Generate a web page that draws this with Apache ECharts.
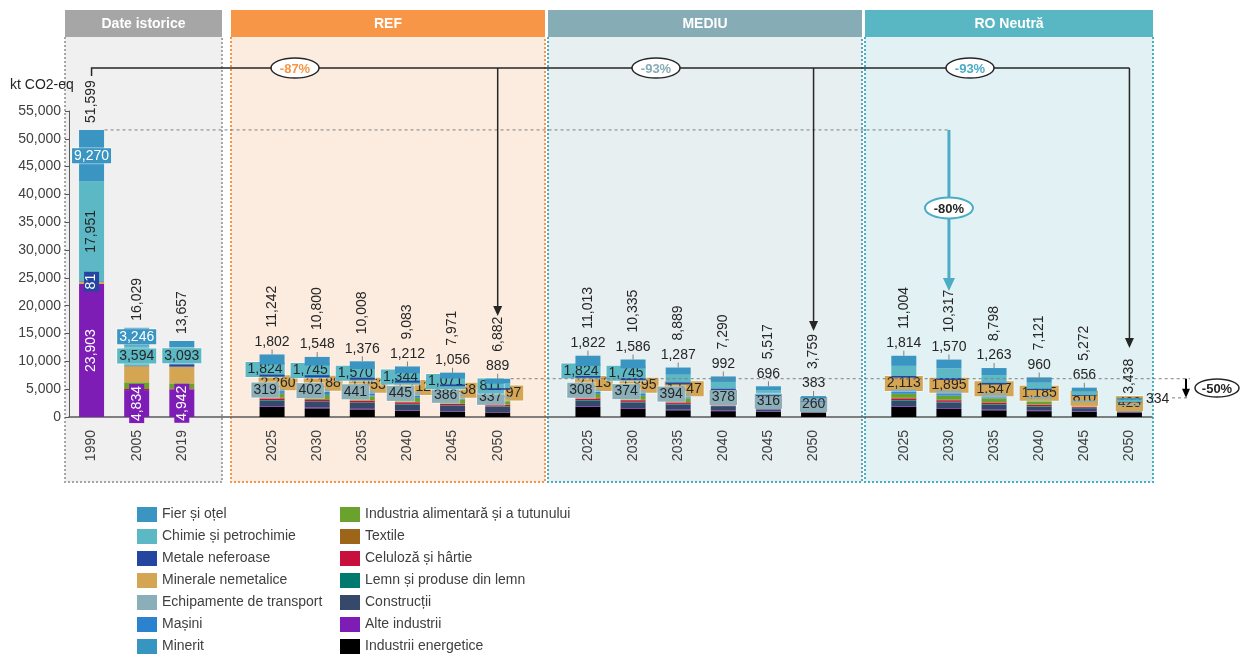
<!DOCTYPE html>
<html>
<head>
<meta charset="utf-8">
<script src="https://cdn.jsdelivr.net/npm/echarts@6/dist/echarts.min.js"></script>
<style>
  html, body { margin: 0; padding: 0; background: #fff; }
  #main { width: 1248px; height: 655px; }
</style>
</head>
<body>
<div id="main"></div>
<script>
// x axis: 3 historic years, then 3 scenarios of 6 years, '' = gap between panels
const years  = ['1990', '2005', '2019', '', '2025', '2030', '2035', '2040', '2045', '2050', '', '2025', '2030', '2035', '2040', '2045', '2050', '', '2025', '2030', '2035', '2040', '2045', '2050'];
const groups = ['H', 'H', 'H', 'g1', 'REF', 'REF', 'REF', 'REF', 'REF', 'REF', 'g2', 'MED', 'MED', 'MED', 'MED', 'MED', 'MED', 'g3', 'RO', 'RO', 'RO', 'RO', 'RO', 'RO'];
const yTicks = [0, 5000, 10000, 15000, 20000, 25000, 30000, 35000, 40000, 45000, 50000, 55000];

// kt CO2-eq per sector (null = gap)
const energ    = [0, 0, 0, null, 1800, 1550, 1350, 1100, 950, 800, null, 1800, 1500, 1200, 1050, 950, 850, null, 1800, 1500, 1200, 1050, 950, 800];
const alte     = [23903, 4834, 4942, null, 130, 130, 120, 110, 100, 90, null, 130, 120, 110, 100, 90, 70, null, 130, 120, 110, 100, 90, 60];
const constr   = [0, 0, 0, null, 1000, 1050, 1050, 1050, 1000, 950, null, 1000, 1000, 950, 800, 600, 450, null, 1000, 1000, 900, 700, 550, 350];
const lemn     = [0, 0, 0, null, 120, 120, 110, 100, 90, 80, null, 120, 110, 100, 90, 70, 50, null, 120, 110, 100, 90, 70, 60];
const celul    = [0, 200, 202, null, 300, 290, 280, 270, 260, 250, null, 290, 280, 260, 240, 200, 150, null, 290, 280, 260, 240, 200, 150];
const textile  = [0, 0, 0, null, 110, 100, 90, 80, 70, 60, null, 100, 90, 80, 70, 50, 40, null, 100, 90, 80, 70, 50, 30];
const aliment  = [0, 1200, 900, null, 700, 720, 720, 720, 700, 650, null, 700, 700, 650, 550, 450, 350, null, 720, 720, 700, 650, 500, 350];
const minerit  = [0, 0, 0, null, 180, 170, 160, 150, 140, 130, null, 170, 160, 150, 130, 100, 80, null, 170, 160, 150, 130, 100, 80];
const masini   = [0, 0, 0, null, 350, 420, 430, 440, 390, 350, null, 340, 420, 420, 300, 150, 100, null, 340, 410, 400, 260, 160, 120];
const echip    = [0, 0, 0, null, 319, 402, 441, 445, 386, 337, null, 308, 374, 394, 378, 316, 260, null, 300, 370, 390, 370, 300, 200];
const minerale = [394, 2900, 3000, null, 2260, 2188, 1953, 1712, 1458, 1197, null, 2113, 1895, 1547, 1150, 800, 400, null, 2113, 1895, 1547, 1185, 810, 423];
const metale   = [81, 55, 420, null, 347, 367, 358, 350, 300, 288, null, 296, 355, 341, 240, 145, 76, null, 297, 352, 298, 216, 136, 81];
const chimie   = [17951, 3594, 3093, null, 1824, 1745, 1570, 1344, 1071, 811, null, 1824, 1745, 1400, 1200, 900, 500, null, 1810, 1740, 1400, 1100, 700, 400];
const fier     = [9270, 3246, 1100, null, 1802, 1548, 1376, 1212, 1056, 889, null, 1822, 1586, 1287, 992, 696, 383, null, 1814, 1570, 1263, 960, 656, 334];
const totals   = [51599, 16029, 13657, null, 11242, 10800, 10008, 9083, 7971, 6882, null, 11013, 10335, 8889, 7290, 5517, 3759, null, 11004, 10317, 8798, 7121, 5272, 3438];

// where each value label goes: c = box centred, l / r = box shifted, v = vertical, t = above bar, R = right of bar
const lblFier     = ['c', 'c', '', '', 't', 't', 't', 't', 't', 't', '', 't', 't', 't', 't', 't', 't', '', 't', 't', 't', 't', 't', 'R'];
const lblChimie   = ['v', 'c', 'c', '', 'l', 'l', 'l', 'l', 'l', 'l', '', 'l', 'l', '', '', '', '', '', '', '', '', '', '', ''];
const lblMetale   = ['v', '', '', '', '', '', '', '', '', '', '', '', '', '', '', '', '', '', '', '', '', '', '', ''];
const lblMinerale = ['', '', '', '', 'r', 'r', 'r', 'r', 'r', 'r', '', 'r', 'r', 'r', '', '', '', '', 'c', 'c', 'c', 'c', 'c', 'c'];
const lblEchip    = ['', '', '', '', 'l', 'l', 'l', 'l', 'l', 'l', '', 'l', 'l', 'l', 'c', 'c', 'c', '', '', '', '', '', '', ''];
const lblAlte     = ['v', 'v', 'v', '', '', '', '', '', '', '', '', '', '', '', '', '', '', '', '', '', '', '', '', ''];

const FONT = "'Liberation Sans', Arial, sans-serif";
const chart = echarts.init(document.getElementById('main'));

function fmt(v) {
  return String(v).replace(/\B(?=(\d{3})+(?!\d))/g, ',');
}

function itemLabel(mode, v, s) {
  const base = { show: true, fontFamily: FONT, fontSize: 14, formatter: fmt(v) };
  if (mode === 'c' || mode === 'l' || mode === 'r') {
    return Object.assign(base, {
      position: 'inside',
      offset: [mode === 'l' ? -7 : (mode === 'r' ? 6 : 0), 0],
      color: s.txt,
      backgroundColor: s.color,
      borderColor: 'rgba(255,255,255,0.45)',
      borderWidth: 1,
      padding: [1, 2, 0, 2],
      lineHeight: 14
    });
  }
  if (mode === 'v') {
    return Object.assign(base, {
      position: 'inside',
      rotate: 90,
      color: s.txt,
      backgroundColor: s.vbox ? s.color : 'transparent',
      padding: [1, 2, 0, 2],
      lineHeight: 14
    });
  }
  if (mode === 't') {
    return {
      show: true,
      position: 'top',
      distance: 0,
      formatter: '{v|' + fmt(v) + '}\n{t|}',
      rich: {
        v: { fontFamily: FONT, fontSize: 14, color: '#262626', lineHeight: 15 },
        t: { width: 1, height: 5, backgroundColor: '#7f7f7f' }
      }
    };
  }
  if (mode === 'R') {
    return Object.assign(base, { position: 'right', distance: 4, color: '#262626' });
  }
  return { show: false };
}

const sectors = [
  { name: 'Industrii energetice', color: '#000000', data: energ },
  { name: 'Alte industrii', color: '#7d1db6', data: alte, lbl: lblAlte, txt: '#ffffff', vbox: true, z: 3 },
  { name: 'Construcții', color: '#37496b', data: constr },
  { name: 'Lemn și produse din lemn', color: '#00796f', data: lemn },
  { name: 'Celuloză și hârtie', color: '#c8103d', data: celul },
  { name: 'Textile', color: '#9d6519', data: textile },
  { name: 'Industria alimentară și a tutunului', color: '#6ba22d', data: aliment },
  { name: 'Minerit', color: '#3795c2', data: minerit },
  { name: 'Mașini', color: '#2b83cf', data: masini },
  { name: 'Echipamente de transport', color: '#8aafb9', data: echip, lbl: lblEchip, txt: '#262626', z: 4 },
  { name: 'Minerale nemetalice', color: '#d4a653', data: minerale, lbl: lblMinerale, txt: '#262626', z: 3 },
  { name: 'Metale neferoase', color: '#2546a0', data: metale, lbl: lblMetale, txt: '#ffffff', vbox: true, z: 6 },
  { name: 'Chimie și petrochimie', color: '#5cb8c4', data: chimie, lbl: lblChimie, txt: '#262626', z: 4 },
  { name: 'Fier și oțel', color: '#3a95c2', data: fier, lbl: lblFier, txt: '#ffffff', z: 5 }
];

const legendLeft  = ['Fier și oțel', 'Chimie și petrochimie', 'Metale neferoase', 'Minerale nemetalice', 'Echipamente de transport', 'Mașini', 'Minerit'];
const legendRight = ['Industria alimentară și a tutunului', 'Textile', 'Celuloză și hârtie', 'Lemn și produse din lemn', 'Construcții', 'Alte industrii', 'Industrii energetice'];

const categories = years.map((y, i) => groups[i] + '|' + y);

const series = sectors.map(s => ({
  name: s.name,
  type: 'bar',
  stack: 'total',
  barWidth: 25,
  barGap: '-100%',
  z: s.z || 2,
  itemStyle: { color: s.color },
  label: { show: false },
  data: s.data.map((v, i) => {
    if (v == null) return '-';
    const mode = s.lbl ? s.lbl[i] : '';
    return mode ? { value: v, label: itemLabel(mode, v, s) } : v;
  })
}));

// totals written above each bar
series.push({
  name: 'Total',
  type: 'bar',
  barWidth: 25,
  barGap: '-100%',
  z: 1,
  silent: true,
  itemStyle: { color: 'rgba(0,0,0,0)' },
  label: {
    show: true,
    position: 'top',
    rotate: 90,
    align: 'left',
    verticalAlign: 'middle',
    fontFamily: FONT,
    fontSize: 14,
    color: '#262626',
    formatter: p => fmt(p.value)
  },
  data: totals.map((v, i) => {
    if (v == null) return '-';
    const gap = i < 3 ? 7 : (lblFier[i] === 'R' ? 4 : 27);
    return { value: v, label: { distance: gap } };
  })
});

const legendBase = {
  orient: 'vertical',
  top: 507,
  height: 150,
  padding: 0,
  itemWidth: 20,
  itemHeight: 15,
  itemGap: 7,
  icon: 'rect',
  selectedMode: false,
  textStyle: { fontFamily: FONT, fontSize: 14, color: '#404040', lineHeight: 15 }
};

const option = {
  animation: false,
  textStyle: { fontFamily: FONT },
  grid: { left: 69, right: 96, top: 111, bottom: 238 },
  legend: [
    Object.assign({ left: 137, data: legendLeft }, legendBase),
    Object.assign({ left: 340, data: legendRight }, legendBase)
  ],
  xAxis: {
    type: 'category',
    data: categories,
    axisLine: { lineStyle: { color: '#595959', width: 1.5 } },
    axisTick: { show: false },
    axisLabel: {
      interval: 0,
      rotate: 90,
      margin: 13,
      fontSize: 14,
      color: '#404040',
      formatter: v => v.split('|')[1]
    }
  },
  yAxis: {
    type: 'value',
    min: yTicks[0],
    max: yTicks[yTicks.length - 1],
    interval: yTicks[1] - yTicks[0],
    splitLine: { show: false },
    axisLine: { show: true, lineStyle: { color: '#595959' } },
    axisTick: { show: true, length: 4, lineStyle: { color: '#595959' } },
    axisLabel: { fontSize: 14, color: '#404040', margin: 8, formatter: v => fmt(v) }
  },
  series: series
};

chart.setOption(option);

// ---- panels and arrows (drawn after the axes exist) ----
const X = i => chart.convertToPixel({ gridIndex: 0 }, [i, 0])[0];
const Y = v => chart.convertToPixel({ gridIndex: 0 }, [0, v])[1];

const panels = [
  { x: 65, w: 157, title: 'Date istorice', head: '#a6a6a6', bg: '#f0f0f0', line: '#a6a6a6' },
  { x: 231, w: 314, title: 'REF', head: '#f79646', bg: '#fcece0', line: '#f79646' },
  { x: 548, w: 314, title: 'MEDIU', head: '#86acb5', bg: '#e8eff1', line: '#4bacc6' },
  { x: 865, w: 288, title: 'RO Neutră', head: '#59b6c3', bg: '#e2f1f3', line: '#4bacc6' }
];

const g = [];
panels.forEach(p => {
  g.push({ type: 'rect', z: -10, shape: { x: p.x, y: 37, width: p.w, height: 445 }, style: { fill: p.bg } });
  g.push({
    type: 'polyline', z: -9,
    shape: { points: [[p.x, 37], [p.x, 482], [p.x + p.w, 482], [p.x + p.w, 37]] },
    style: { stroke: p.line, lineWidth: 2, lineDash: [2, 2], fill: null }
  });
  g.push({ type: 'rect', z: -8, shape: { x: p.x, y: 10, width: p.w, height: 27 }, style: { fill: p.head } });
  g.push({
    type: 'text', z: -7, x: p.x + p.w / 2, y: 24,
    style: { text: p.title, fill: '#ffffff', font: 'bold 14px ' + FONT, align: 'center', verticalAlign: 'middle' }
  });
});

g.push({
  type: 'text', x: 10, y: 85,
  style: { text: 'kt CO2-eq', fill: '#262626', font: '14px ' + FONT, align: 'left', verticalAlign: 'middle' }
});

function arrowDown(x, y1, y2, color, w, head) {
  g.push({ type: 'line', z: 50, shape: { x1: x, y1: y1, x2: x, y2: y2 - head }, style: { stroke: color, lineWidth: w } });
  g.push({
    type: 'polygon', z: 50,
    shape: { points: [[x - head * 0.5, y2 - head - 1], [x + head * 0.5, y2 - head - 1], [x, y2]] },
    style: { fill: color }
  });
}

function badge(x, y, text, textColor, stroke, sw) {
  g.push({ type: 'ellipse', z: 55, shape: { cx: x, cy: y, rx: 24, ry: 10 }, style: { fill: '#ffffff', stroke: stroke, lineWidth: sw } });
  g.push({
    type: 'text', z: 56, x: x, y: y + 1,
    style: { text: text, fill: textColor, font: 'bold 13px ' + FONT, align: 'center', verticalAlign: 'middle' }
  });
}

const lineY = 68;
const x90 = X(0), xRef = X(9), xMed = X(16), xRo = X(23);
g.push({
  type: 'polyline', z: 50,
  shape: { points: [[x90, 76], [x90, lineY], [xRo, lineY]] },
  style: { stroke: '#262626', lineWidth: 1.5, fill: null }
});
arrowDown(xRef, lineY, 316, '#262626', 1.5, 9);
arrowDown(xMed, lineY, 331, '#262626', 1.5, 9);
arrowDown(xRo, lineY, 348, '#262626', 1.5, 9);
badge(295, lineY, '-87%', '#f79646', '#262626', 1.5);
badge(656, lineY, '-93%', '#86acb5', '#262626', 1.5);
badge(970, lineY, '-93%', '#4bacc6', '#262626', 1.5);

// 1990 level down to RO Neutră 2030
const y1990 = Y(totals[0]);
const xRo30 = X(19);
g.push({ type: 'line', z: 40, shape: { x1: x90 + 13, y1: y1990, x2: xRo30, y2: y1990 }, style: { stroke: '#7f7f7f', lineWidth: 1, lineDash: [3, 3] } });
arrowDown(xRo30, y1990, 291, '#4bacc6', 3, 12);
g.push({ type: 'ellipse', z: 55, shape: { cx: xRo30, cy: 208, rx: 24, ry: 10.5 }, style: { fill: '#ffffff', stroke: '#4bacc6', lineWidth: 2 } });
g.push({ type: 'text', z: 56, x: xRo30, y: 209, style: { text: '-80%', fill: '#262626', font: 'bold 13px ' + FONT, align: 'center', verticalAlign: 'middle' } });

// REF 2050 vs RO Neutră 2050
const yRef50 = Y(totals[9]);
const yRo50 = Y(totals[23]);
g.push({ type: 'line', z: 40, shape: { x1: xRef + 13, y1: yRef50, x2: 1190, y2: yRef50 }, style: { stroke: '#7f7f7f', lineWidth: 1, lineDash: [3, 3] } });
g.push({ type: 'line', z: 40, shape: { x1: 1172, y1: yRo50, x2: 1190, y2: yRo50 }, style: { stroke: '#7f7f7f', lineWidth: 1, lineDash: [3, 3] } });
arrowDown(1186, yRef50, yRo50, '#000000', 2, 8);
g.push({ type: 'ellipse', z: 55, shape: { cx: 1217, cy: 388, rx: 22, ry: 9 }, style: { fill: '#ffffff', stroke: '#262626', lineWidth: 1.5 } });
g.push({ type: 'text', z: 56, x: 1217, y: 389, style: { text: '-50%', fill: '#262626', font: 'bold 13px ' + FONT, align: 'center', verticalAlign: 'middle' } });

chart.setOption({ graphic: { elements: g } });
</script>
</body>
</html>
